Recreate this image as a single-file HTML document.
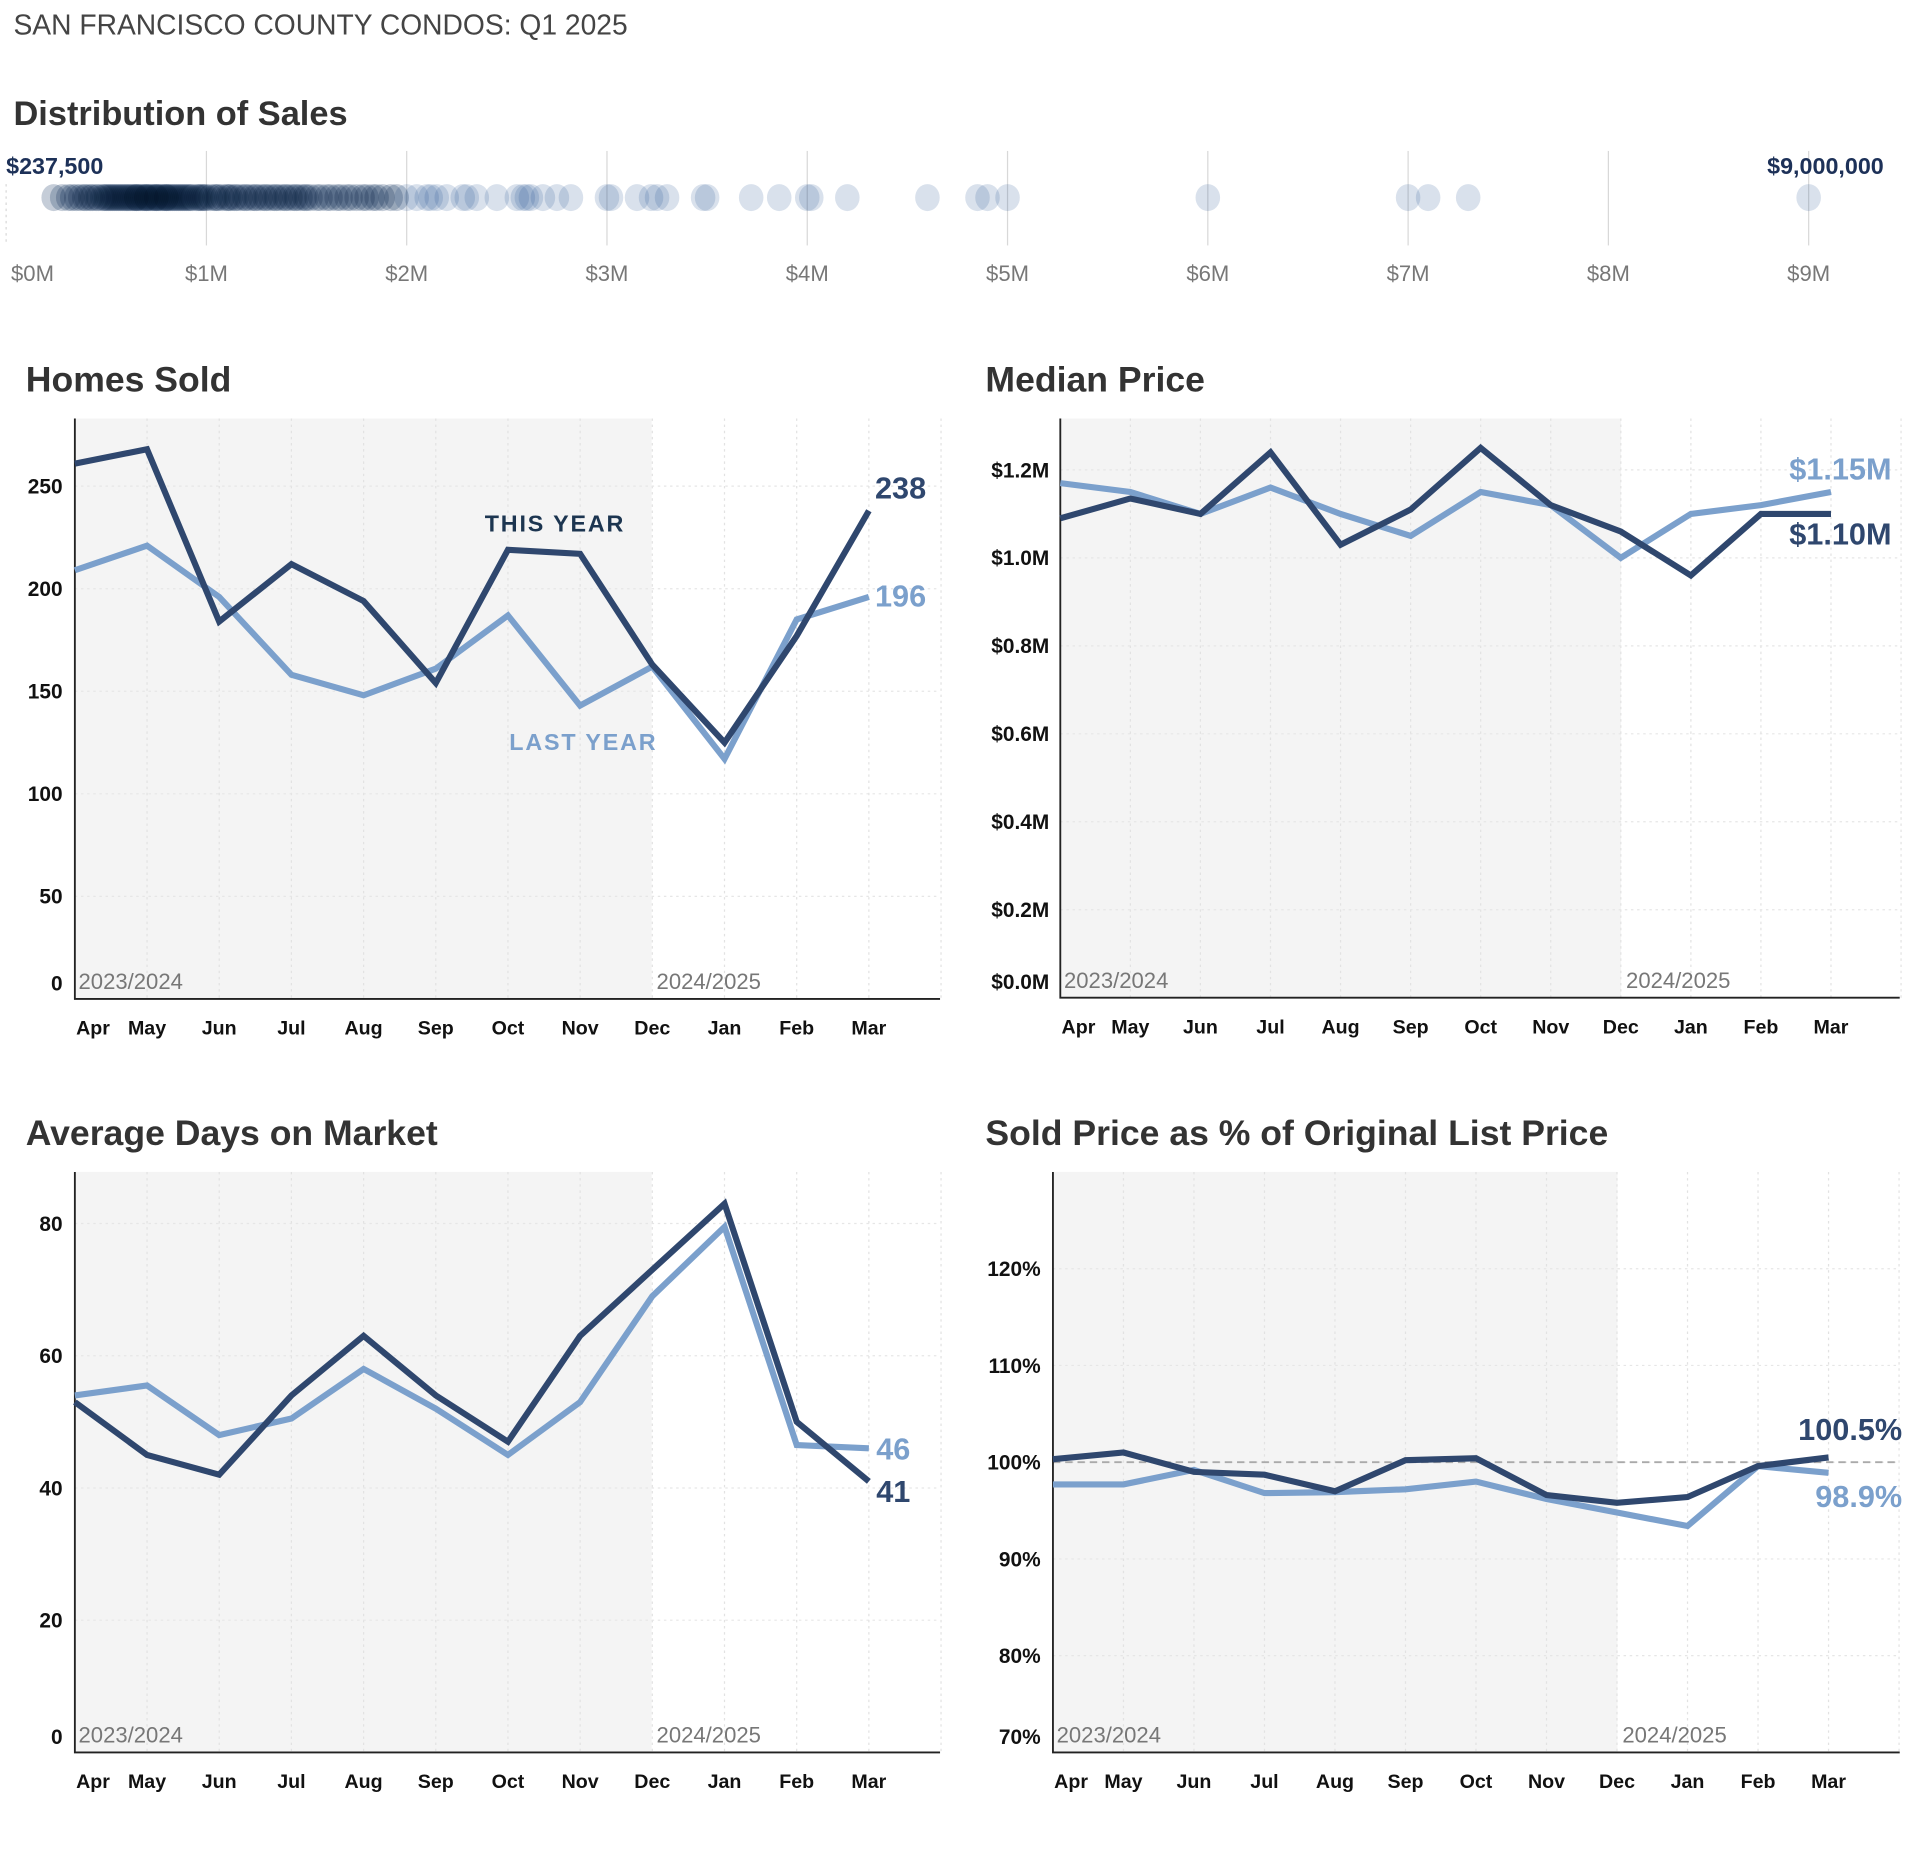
<!DOCTYPE html>
<html><head><meta charset="utf-8">
<style>
html,body{margin:0;padding:0;background:#fff;}
svg{display:block;}
text{font-family:"Liberation Sans",sans-serif;}
</style></head>
<body>
<svg id="root" width="1925" height="1862" viewBox="0 0 1568.6 1517.3" preserveAspectRatio="none" xmlns="http://www.w3.org/2000/svg">
<rect x="0" y="0" width="1570" height="1520" fill="#fff"/>
<text x="11" y="28" font-size="23" fill="#444">SAN FRANCISCO COUNTY CONDOS: Q1 2025</text>
<text x="11" y="102" font-size="28" font-weight="bold" fill="#333">Distribution of Sales</text>
<g id="dist"></g>
<g id="c1"></g>
<g id="c2"></g>
<g id="c3"></g>
<g id="c4"></g>
</svg>
<script>
const months = ["Apr","May","Jun","Jul","Aug","Sep","Oct","Nov","Dec","Jan","Feb","Mar"];
// Homes Sold
const homesThis = [261,268,184,212,194,154,219,217,163,125,177,238];
const homesLast = [209,221,196,158,148,161,187,143,162,117,185,196];
const homesTicks = [0,50,100,150,200,250];
// Median Price ($M)
const medThis = [1.09,1.135,1.10,1.24,1.03,1.11,1.25,1.12,1.06,0.96,1.10,1.10];
const medLast = [1.17,1.15,1.10,1.16,1.10,1.05,1.15,1.12,1.00,1.10,1.12,1.15];
const medTicks = [0,0.2,0.4,0.6,0.8,1.0,1.2];
// Days on market
const domThis = [53,45,42,54,63,54,47,63,73,83,50,41];
const domLast = [54,55.5,48,50.5,58,52,45,53,69,79.5,46.5,46];
const domTicks = [0,20,40,60,80];
// Sold % of list
const pctThis = [100.3,101,99,98.7,97,100.2,100.4,96.6,95.8,96.4,99.6,100.5];
const pctLast = [97.7,97.7,99.2,96.8,96.9,97.2,98,96.2,94.8,93.4,99.6,98.9];
const pctTicks = [70,80,90,100,110,120];
// Distribution of sales ($M)
const sales = [0.2375,0.28,0.31,0.33,0.35,0.37,0.39,0.40,0.42,0.43,0.45,0.46,0.48,0.49,0.50,0.51,0.52,0.53,0.54,0.55,0.56,0.57,0.58,0.59,0.60,0.61,0.62,0.63,0.64,0.65,0.65,0.66,0.67,0.68,0.69,0.70,0.70,0.71,0.72,0.73,0.74,0.75,0.75,0.76,0.77,0.78,0.79,0.80,0.80,0.81,0.82,0.83,0.84,0.85,0.86,0.87,0.88,0.89,0.90,0.91,0.92,0.93,0.95,0.96,0.97,0.98,0.99,1.00,1.02,1.04,1.05,1.06,1.08,1.10,1.11,1.12,1.14,1.15,1.17,1.19,1.20,1.22,1.24,1.25,1.27,1.29,1.30,1.32,1.34,1.35,1.37,1.39,1.40,1.42,1.44,1.45,1.47,1.49,1.50,1.52,1.55,1.57,1.60,1.62,1.65,1.67,1.70,1.72,1.75,1.78,1.80,1.83,1.85,1.88,1.92,1.95,2.00,2.05,2.10,2.12,2.15,2.20,2.28,2.30,2.35,2.45,2.55,2.58,2.60,2.62,2.68,2.75,2.82,3.00,3.02,3.15,3.22,3.25,3.30,3.48,3.50,3.72,3.86,4.00,4.02,4.20,4.60,4.85,4.90,5.00,6.00,7.00,7.10,7.30,9.00];
const distTicks = [0,1,2,3,4,5,6,7,8,9];

const NS = "http://www.w3.org/2000/svg";
function mk(parent, tag, attrs, txt){
  const e = document.createElementNS(NS, tag);
  for (const k in attrs) e.setAttribute(k, attrs[k]);
  if (txt !== undefined) e.textContent = txt;
  parent.appendChild(e);
  return e;
}

// Distribution
(function(){
  const g = document.getElementById('dist');
  const x = v => 5 + v * 163.2;
  distTicks.forEach((t,i)=>{
    const l = mk(g,'line',{x1:x(t),x2:x(t),y1:i===0?150:123,y2:200,stroke:'#d8d8d8','stroke-width':1,'stroke-dasharray':i===0?'2,3':''});
    
    
    const tx = mk(g,'text',{x:i===0?x(t)+4:x(t),y:229,'font-size':18,fill:'#777','text-anchor':i===0?'start':'middle'},'$'+t+'M');
    
    
  });
  sales.forEach(v=>{
    const c = mk(g,'ellipse',{cx:x(v),cy:161,rx:10,ry:11,fill:'#1f4c8f','fill-opacity':0.17});
    
    
  });
  sales.filter(v=>v<2).forEach(v=>{
    const c = mk(g,'ellipse',{cx:x(v),cy:161,rx:10,ry:11,fill:'#000814','fill-opacity':0.09});
    
    
  });
  const a = mk(g,'text',{x:5,y:142,'font-size':19,'font-weight':'bold',fill:'#1d3158'},'$237,500');
  
  
  const b = mk(g,'text',{x:1535,y:142,'font-size':19,'font-weight':'bold',fill:'#1d3158','text-anchor':'end'},'$9,000,000');
  
  
})();

function chart(id, cfg){
  const g = document.getElementById(id);
  const {x0,xEnd,xRight,top,bottom,vmin,vmax,ticks,fmt,shadeEnd,thisV,lastV,title,titleY,labelX} = cfg;
  const step = (xEnd - x0)/11;
  const x = i => x0 + i*step;
  const y = v => bottom - (v - vmin)/(vmax - vmin)*(bottom - top);
  const t = mk(g,'text',{x:cfg.titleX,y:titleY,'font-size':29,'font-weight':'bold',fill:'#333'},title);
  
  
  const sh = mk(g,'rect',{x:x0,y:top,width:shadeEnd-x0,height:bottom-top,fill:'#f4f4f4'});
  
  
  for(let i=1;i<=12;i++){
    const gx = x0 + i*step;
    const l = mk(g,'line',{x1:gx,x2:gx,y1:top,y2:bottom,stroke:'#e2e2e2','stroke-dasharray':'2,3'});
    
    
  }
  ticks.forEach(v=>{
    const l = mk(g,'line',{x1:x0,x2:xRight,y1:y(v),y2:y(v),stroke:'#e6e6e6','stroke-dasharray':'2,3'});
    
    
    const tx = mk(g,'text',{x:labelX,y:y(v)+6,'font-size':17,'font-weight':'bold',fill:'#111','text-anchor':'end'},fmt(v));
    if (v===ticks[0]) tx.setAttribute('y', bottom-7);
    
    
  });
  if (cfg.refLine!==undefined){
    const l = mk(g,'line',{x1:x0,x2:xRight,y1:y(cfg.refLine),y2:y(cfg.refLine),stroke:'#aaa','stroke-dasharray':'6,4','stroke-width':1.5});
    
    
  }
  const ax = mk(g,'path',{d:`M${x0},${top} V${bottom} H${xRight}`,stroke:'#222','stroke-width':1.5,fill:'none'});
  
  
  months.forEach((m,i)=>{
    const tx = mk(g,'text',{x:i===0?x(i)+1:x(i),y:bottom+29,'font-size':16,'font-weight':'bold',fill:'#111','text-anchor':i===0?'start':'middle'},m);
    
    
  });
  const p1 = mk(g,'text',{x:x0+3,y:bottom-8,'font-size':18,fill:'#777'},'2023/2024');
  
  
  const p2 = mk(g,'text',{x:shadeEnd+4,y:bottom-8,'font-size':18,fill:'#777'},'2024/2025');
  
  
  const pts = arr => arr.map((v,i)=>`${x(i).toFixed(1)},${y(v).toFixed(1)}`).join(' ');
  const ll = mk(g,'polyline',{points:pts(lastV),fill:'none',stroke:'#7ba0cc','stroke-width':5,'stroke-linejoin':'miter'});
  
  
  const tl = mk(g,'polyline',{points:pts(thisV),fill:'none',stroke:'#2f476e','stroke-width':5,'stroke-linejoin':'miter'});
  
  
  const lt = thisV[11], lp = lastV[11];
  const thisAbove = y(lt) <= y(lp);
  const ex = cfg.endX !== undefined ? cfg.endX : x(11)+cfg.endDx;
  const e1 = mk(g,'text',{x:ex,y:y(lt)+(thisAbove?cfg.aboveDy:cfg.belowDy),'font-size':25,'font-weight':'bold',fill:'#2f476e','text-anchor':cfg.endAnchor},cfg.endFmt(lt));
  
  
  const e2 = mk(g,'text',{x:ex,y:y(lp)+(thisAbove?cfg.belowDy:cfg.aboveDy),'font-size':25,'font-weight':'bold',fill:'#7ba0cc','text-anchor':cfg.endAnchor},cfg.endFmt(lp));
  
  
  return {x,y};
}

chart('c1',{x0:61,xEnd:708,xRight:766,top:341,bottom:814,vmin:0,vmax:283,ticks:homesTicks,fmt:v=>String(v),shadeEnd:531,thisV:homesThis,lastV:homesLast,title:'Homes Sold',titleX:21,titleY:319,labelX:51,endDx:5,endAnchor:'start',aboveDy:-10,belowDy:8,endFmt:v=>String(v)});
(function(){
  const g = document.getElementById('c1');
  const a = mk(g,'text',{x:395,y:433,'font-size':19,'font-weight':'bold',fill:'#1c3550','letter-spacing':1.5},'THIS YEAR');
  
  
  const b = mk(g,'text',{x:415,y:611,'font-size':19,'font-weight':'bold',fill:'#7ba0cc','letter-spacing':1.5},'LAST YEAR');
  
  
})();
chart('c2',{x0:864,xEnd:1492,xRight:1548,top:341,bottom:813,vmin:0,vmax:1.317,ticks:medTicks,fmt:v=>'$'+v.toFixed(1)+'M',shadeEnd:1321,thisV:medThis,lastV:medLast,title:'Median Price',titleX:803,titleY:319,labelX:855,endDx:-34,endAnchor:'start',aboveDy:-10,belowDy:25,endFmt:v=>'$'+v.toFixed(2)+'M'});
chart('c3',{x0:61,xEnd:708,xRight:766,top:955,bottom:1428,vmin:0,vmax:87.8,ticks:domTicks,fmt:v=>String(v),shadeEnd:531,thisV:domThis,lastV:domLast,title:'Average Days on Market',titleX:21,titleY:933,labelX:51,endDx:6,endAnchor:'start',aboveDy:9,belowDy:17,endFmt:v=>String(v)});
chart('c4',{x0:858,xEnd:1490,xRight:1548,top:955,bottom:1428,vmin:70,vmax:130,ticks:pctTicks,fmt:v=>v+'%',shadeEnd:1318,thisV:pctThis,lastV:pctLast,refLine:100,title:'Sold Price as % of Original List Price',titleX:803,titleY:933,labelX:848,endX:1550,endAnchor:'end',aboveDy:-14,belowDy:28,endFmt:v=>v.toFixed(1)+'%'});
</script>
</body></html>
